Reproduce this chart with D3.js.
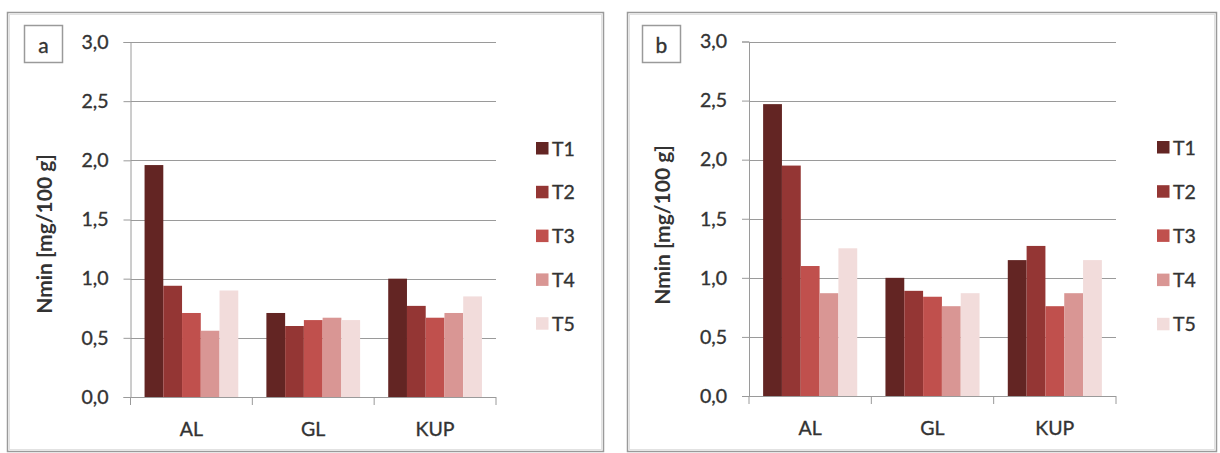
<!DOCTYPE html>
<html>
<head>
<meta charset="utf-8">
<script src="https://cdn.jsdelivr.net/npm/d3@7"></script>
<style>
  html, body { margin: 0; padding: 0; background: #ffffff; }
  svg { display: block; }
  text { font-family: Lato, "Open Sans", sans-serif; fill: #333333; }
  text.reg { stroke: #333333; stroke-width: 0.35px; }
</style>
</head>
<body>
<svg id="chart" width="1220" height="453"></svg>
<script>
// Categories (soil samples) and treatment series
const categories = ["AL", "GL", "KUP"];
const seriesNames = ["T1", "T2", "T3", "T4", "T5"];
const seriesColors = ["#632523", "#943634", "#C0504D", "#D99694", "#F2DCDB"];

// Nmin [mg/100 g], one row per treatment, columns follow `categories`
const panelA_T1 = [1.96, 0.71, 1.00];
const panelA_T2 = [0.94, 0.60, 0.77];
const panelA_T3 = [0.71, 0.65, 0.67];
const panelA_T4 = [0.56, 0.67, 0.71];
const panelA_T5 = [0.90, 0.65, 0.85];

const panelB_T1 = [2.47, 1.00, 1.15];
const panelB_T2 = [1.95, 0.89, 1.27];
const panelB_T3 = [1.10, 0.84, 0.76];
const panelB_T4 = [0.87, 0.76, 0.87];
const panelB_T5 = [1.25, 0.87, 1.15];

const yTicks = [0, 0.5, 1.0, 1.5, 2.0, 2.5, 3.0];
const yMax = 3.0;
const yTitle = "Nmin [mg/100 g]";
const panelLabels = ["a", "b"];

const fmt = v => v.toFixed(1).replace(".", ",");

const svg = d3.select("#chart");

const panels = [
  {
    label: panelLabels[0],
    rows: [panelA_T1, panelA_T2, panelA_T3, panelA_T4, panelA_T5],
    frame: { x: 7.5, y: 12.5, w: 596, h: 439 },
    labelBox: { x: 24.5, y: 25.5, w: 38, h: 37 },
    plot: { left: 130.5, right: 496, top: 42, bottom: 397 },
    titleX: 45, titleY: 234,
    legend: { x: 536, y: 148.5, step: 43.8 }
  },
  {
    label: panelLabels[1],
    rows: [panelB_T1, panelB_T2, panelB_T3, panelB_T4, panelB_T5],
    frame: { x: 627.5, y: 12.5, w: 589, h: 439 },
    labelBox: { x: 642.5, y: 25.5, w: 38, h: 37 },
    plot: { left: 749, right: 1116, top: 41.5, bottom: 396 },
    titleX: 663, titleY: 225,
    legend: { x: 1157, y: 147.5, step: 44.2 }
  }
];

panels.forEach(drawPanel);

function drawPanel(p) {
  const g = svg.append("g");

  // outer frame (double grey line)
  g.append("rect")
    .attr("x", p.frame.x).attr("y", p.frame.y)
    .attr("width", p.frame.w).attr("height", p.frame.h)
    .attr("fill", "none").attr("stroke", "#9a9a9a").attr("stroke-width", 1.5);
  g.append("rect")
    .attr("x", p.frame.x + 2).attr("y", p.frame.y + 2)
    .attr("width", p.frame.w - 4).attr("height", p.frame.h - 4)
    .attr("fill", "none").attr("stroke", "#e2e2e2").attr("stroke-width", 1);

  // panel letter box
  g.append("rect")
    .attr("x", p.labelBox.x).attr("y", p.labelBox.y)
    .attr("width", p.labelBox.w).attr("height", p.labelBox.h)
    .attr("fill", "#fff").attr("stroke", "#9a9a9a").attr("stroke-width", 1.5);
  g.append("text")
    .attr("class", "reg")
    .attr("x", p.labelBox.x + p.labelBox.w / 2)
    .attr("y", p.labelBox.y + 27)
    .attr("text-anchor", "middle")
    .style("font-size", "21px")
    .text(p.label);

  const x0 = d3.scaleBand()
    .domain(categories)
    .range([p.plot.left, p.plot.right])
    .padding(0);
  const x1 = d3.scaleBand()
    .domain(seriesNames)
    .range([0, x0.bandwidth()])
    .paddingInner(0)
    .paddingOuter(0.75);
  const y = d3.scaleLinear()
    .domain([0, yMax])
    .range([p.plot.bottom, p.plot.top]);

  // horizontal gridlines
  g.append("g")
    .selectAll("line")
    .data(yTicks.filter(t => t > 0))
    .join("line")
    .attr("x1", p.plot.left).attr("x2", p.plot.right)
    .attr("y1", d => Math.round(y(d)) + 0.5)
    .attr("y2", d => Math.round(y(d)) + 0.5)
    .attr("stroke", "#9a9a9a").attr("stroke-width", 1);

  // bars
  const rows = p.rows;
  seriesNames.forEach((s, si) => {
    g.append("g")
      .selectAll("rect")
      .data(categories.map((c, ci) => ({ c, v: rows[si][ci] })))
      .join("rect")
      .attr("x", d => x0(d.c) + x1(s))
      .attr("y", d => y(d.v))
      .attr("width", x1.bandwidth())
      .attr("height", d => y(0) - y(d.v))
      .attr("fill", seriesColors[si]);
  });

  // y axis
  const yAxis = d3.axisLeft(y)
    .tickValues(yTicks)
    .tickFormat(fmt)
    .tickSize(7)
    .tickPadding(15);
  const ya = g.append("g")
    .attr("transform", `translate(${p.plot.left},0)`)
    .call(yAxis);
  ya.select(".domain").attr("stroke", "#9a9a9a");
  ya.selectAll(".tick line").attr("stroke", "#9a9a9a");
  ya.selectAll(".tick text")
    .attr("class", "reg")
    .style("font-size", "19.5px")
    .attr("fill", "#333333");

  // x axis with boundary tick marks
  const xa = g.append("g")
    .attr("transform", `translate(0,${p.plot.bottom})`);
  xa.append("line")
    .attr("x1", p.plot.left).attr("x2", p.plot.right)
    .attr("y1", 0.5).attr("y2", 0.5)
    .attr("stroke", "#9a9a9a");
  const bounds = categories.map(c => x0(c)).concat([x0.range()[1]]);
  xa.selectAll("line.tk")
    .data(bounds)
    .join("line")
    .attr("class", "tk")
    .attr("x1", d => d).attr("x2", d => d)
    .attr("y1", 0).attr("y2", 8)
    .attr("stroke", "#9a9a9a");
  xa.selectAll("text")
    .data(categories)
    .join("text")
    .attr("class", "reg")
    .attr("x", d => x0(d) + x0.bandwidth() / 2)
    .attr("y", 39)
    .attr("text-anchor", "middle")
    .style("font-size", "19.5px")
    .text(d => d);

  // y axis title
  g.append("text")
    .attr("transform", `translate(${p.titleX + 7},${p.titleY}) rotate(-90)`)
    .attr("text-anchor", "middle")
    .style("font-size", "21px")
    .style("font-weight", "bold")
    .text(yTitle);

  // legend
  const lg = g.append("g");
  seriesNames.forEach((s, si) => {
    const cy = p.legend.y + si * p.legend.step;
    lg.append("rect")
      .attr("x", p.legend.x).attr("y", cy - 6.5)
      .attr("width", 12.5).attr("height", 12.5)
      .attr("fill", seriesColors[si]);
    lg.append("text")
      .attr("class", "reg")
      .attr("x", p.legend.x + 16)
      .attr("y", cy + 7)
      .style("font-size", "19.5px")
      .text(s);
  });
}
</script>
</body>
</html>
